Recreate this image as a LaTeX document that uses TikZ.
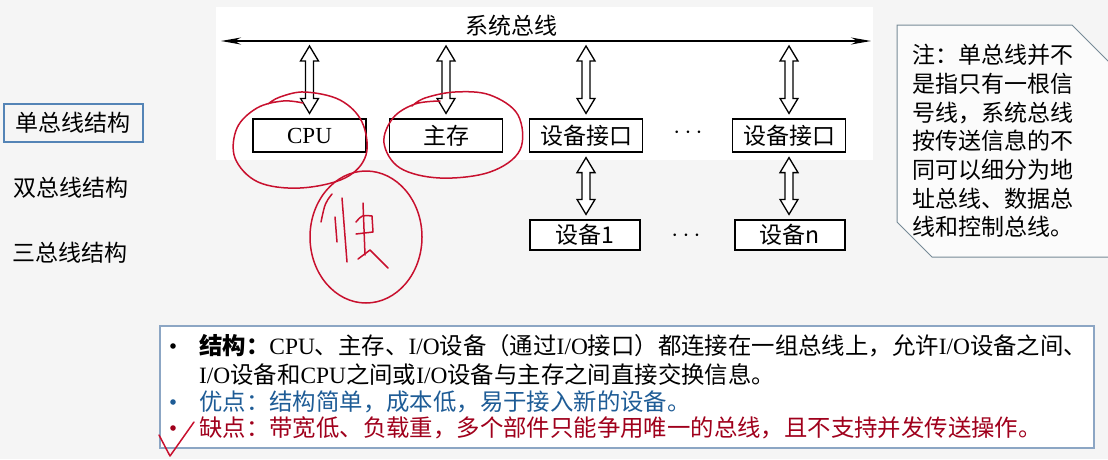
\documentclass[tikz,border=0pt]{standalone}
\usepackage{fontspec}
\setmainfont{Noto Sans CJK SC}
\newfontfamily\tm{Liberation Serif}
\usetikzlibrary{arrows.meta,positioning,calc}
\definecolor{inkred}{RGB}{200,16,46}
\definecolor{capblue}{RGB}{30,92,150}
\definecolor{capred}{RGB}{160,0,28}
\definecolor{frameblue}{RGB}{84,132,182}
\definecolor{boxblue}{RGB}{140,166,196}
\definecolor{notegray}{RGB}{118,138,150}
\definecolor{paper}{RGB}{245,245,245}
\newcommand{\txt}{\fontsize{23}{28}\selectfont}
\newcommand{\bodytxt}{\fontsize{23.4}{28}\selectfont}
% hollow double arrow between two named points (vertical)
\newcommand{\hollowlink}[2]{%
    \draw[hollow] let \p1=(#1), \p2=(#2) in
        (\x1,\y1-5pt) -- (\x1+9pt,\y1-20pt) -- (\x1+4pt,\y1-20pt) -- (\x1+4pt,\y2+20pt)
        -- (\x1+9pt,\y2+20pt) -- (\x1,\y2+5pt) -- (\x1-9pt,\y2+20pt) -- (\x1-4pt,\y2+20pt)
        -- (\x1-4pt,\y1-20pt) -- (\x1-9pt,\y1-20pt) -- cycle;}

\begin{document}
\begin{tikzpicture}[x=1pt, y=-1pt, >={Stealth[length=20pt,width=7pt]},
    unit/.style={draw, line width=1.2pt, fill=white, minimum width=113pt, minimum height=33pt, inner sep=0pt, font=\txt},
    dev/.style={draw, line width=1.2pt, fill=white, minimum width=110pt, minimum height=30pt, inner sep=0pt, font=\txt},
    hollow/.style={draw, line width=1.3pt, fill=white},
    ink/.style={inkred, line width=1.5pt, line cap=round, line join=round},
    side/.style={font=\txt, inner sep=0pt},
    body/.style={font=\bodytxt, inner sep=0pt, anchor=west}
]

    % Background
    \useasboundingbox[fill=paper] (0,0) rectangle (1108,459);
    \fill[white] (216,7) rectangle (873,160);

    % Left menu
    \node[side, draw=frameblue, line width=1.6pt, minimum width=139pt, minimum height=38pt] (single) at (73.5,123) {单总线结构};
    \node[side] (dual) at (71,188) {双总线结构};
    \node[side] (triple) at (70,253) {三总线结构};

    % System bus
    \coordinate (busL) at (221,41);
    \coordinate (busR) at (871,41);
    \draw[<->, line width=1.4pt] (busL) -- (busR);
    \node[font=\txt] (buslabel) at (511,26) {系统总线};

    % Units on the bus
    \node[unit] (cpu) at (309.5,135.5) {\tm CPU};
    \node[unit] (mem) at (446,135.5) {主存};
    \node[unit] (ifa) at (586,135.5) {设备接口};
    \node[unit] (ifb) at (789,135.5) {设备接口};
    \node[font=\fontsize{29}{30}\selectfont] (dotsA) at (688,133) {$\cdots$};

    \coordinate (cpu-top) at (cpu.north |- busL);
    \coordinate (mem-top) at (mem.north |- busL);
    \coordinate (ifa-top) at (ifa.north |- busL);
    \coordinate (ifb-top) at (ifb.north |- busL);
    \hollowlink{cpu-top}{cpu.north}
    \hollowlink{mem-top}{mem.north}
    \hollowlink{ifa-top}{ifa.north}
    \hollowlink{ifb-top}{ifb.north}

    % Devices
    \node[dev] (deva) at (585,235) {设备1};
    \node[dev] (devn) at (790,235) {设备n};
    \node[font=\fontsize{29}{30}\selectfont] (dotsB) at (686,236) {$\cdots$};
    \hollowlink{ifa.south}{deva.north}
    \hollowlink{ifb.south}{devn.north}

    % Note
    \draw[notegray, line width=1pt, fill=white!60!paper] (897,25) -- (1072,25) -- (1120,73) -- (1120,257) -- (932,257) -- (897,222) -- cycle;
    \node[anchor=north west, align=left, inner sep=0pt, font=\fontsize{23}{28.7}\selectfont] (note) at (912,44)
        {注：单总线并不\\是指只有一根信\\号线，系统总线\\按传送信息的不\\同可以细分为地\\址总线、数据总\\线和控制总线。};

    % Summary box
    \draw[boxblue, line width=1.2pt, fill=white] (160,326) rectangle (1094,448);
    \fill (173,346) circle (2.8);
    \fill[capblue] (173,402) circle (2.8);
    \fill[capred] (173,428) circle (2.8);
    \node[body] (struct) at (199,346)
        {\textbf{结构：}{\tm CPU}、主存、{\tm I/O}设备（通过{\tm I/O}接口）都连接在一组总线上，允许{\tm I/O}设备之间、};
    \node[body] (structb) at (199,375)
        {{\tm I/O}设备和{\tm CPU}之间或{\tm I/O}设备与主存之间直接交换信息。};
    \node[body, capblue] (pro) at (199,402) {优点：结构简单，成本低，易于接入新的设备。};
    \node[body, capred] (con) at (199,428) {缺点：带宽低、负载重，多个部件只能争用唯一的总线，且不支持并发传送操作。};

    % Hand-drawn marks
    \draw[ink] plot[smooth, tension=0.6] coordinates {(303,103) (283,101) (257,108) (237,128) (235,158) (258,182) (300,188) (345,178) (366,155) (362,122) (340,100) (305,92) (280,97) (268,104)};
    \draw[ink] plot[smooth, tension=0.6] coordinates {(440,101) (415,104) (393,118) (384,143) (400,168) (440,178) (490,172) (520,150) (518,115) (490,95) (455,92) (425,98) (412,106)};
    \draw[ink] (366,237) ellipse [x radius=56, y radius=66];
    \draw[ink] (332,194) .. controls (325,203) .. (321,222);
    \draw[ink] (335,217) -- (337,242);
    \draw[ink] (342,198) -- (347,262);
    \draw[ink] (356,222) .. controls (362,215) .. (372,216) -- (373,232) -- (356,234);
    \draw[ink] (363,203) -- (365,255);
    \draw[ink] (358,259) -- (370,250) -- (388,268);
    \draw[ink] (159,435) -- (170,456) -- (194,422);

\end{tikzpicture}
\end{document}
